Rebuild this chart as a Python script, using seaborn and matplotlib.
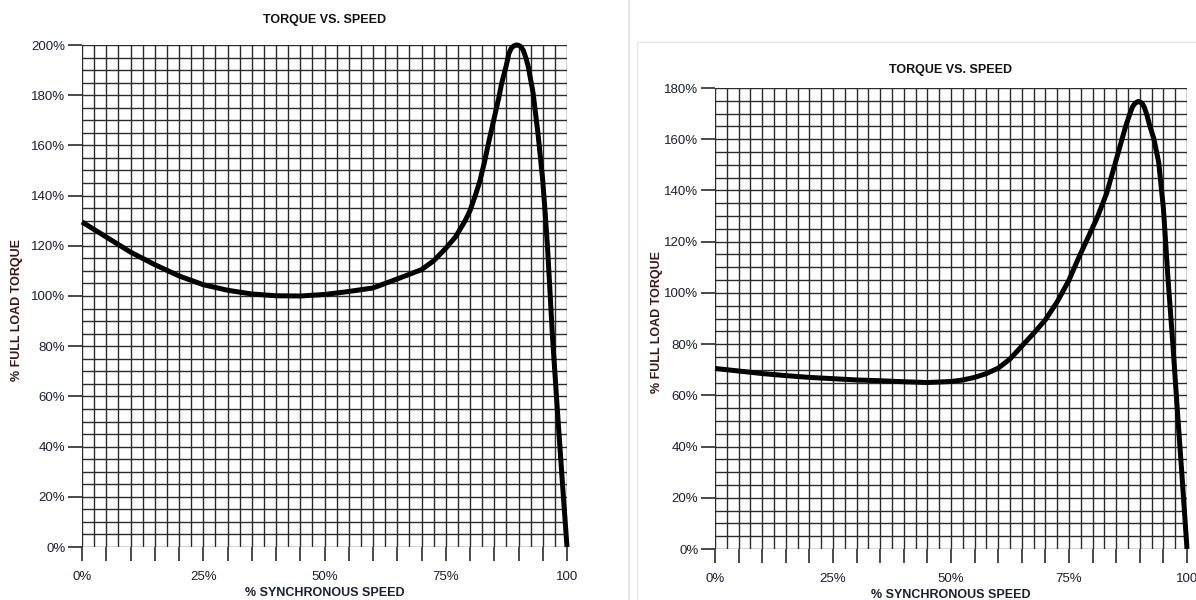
import matplotlib
matplotlib.use("Agg")
import matplotlib.pyplot as plt
import seaborn as sns
import numpy as np
import pandas as pd
from matplotlib.lines import Line2D
from matplotlib.patches import Rectangle

sns.set_style("white")
plt.rcParams['font.family'] = ['Liberation Sans', 'DejaVu Sans']

# ---- data ----
left_speed = [0, 5, 10, 15, 20, 25, 30, 35, 40, 45, 50, 55, 60, 65, 70, 72.5, 75, 77,
              79, 80, 81, 82, 83, 84, 85, 86, 86.5, 87.5, 88, 88.5, 89, 89.5, 90,
              90.5, 91, 91.5, 92, 93, 94, 95, 95.5, 96, 97, 98, 99, 100]
left_torque = [129.5, 123.5, 117.5, 112.5, 108, 104.5, 102.3, 100.8, 100.1, 100, 100.6,
               101.8, 103.2, 106.8, 110.5, 114, 119, 123.5, 130, 134, 139.5, 145.5,
               153.5, 162.5, 171, 179.5, 184.5, 192, 196.5, 198.7, 199.6, 200, 199.9,
               199.3, 197.8, 195, 191.5, 181, 165, 146, 133, 119, 84, 55, 27, 0]

right_speed = [0, 5, 10, 15, 20, 25, 30, 35, 40, 45, 50, 52.5, 55, 57.5, 60, 62.5, 65,
               67.5, 70, 72.5, 75, 77, 79, 81, 83, 85, 87, 88, 88.5, 89, 89.7, 90.5,
               91, 91.5, 92, 93, 94, 95, 96, 97, 98, 99, 100]
right_torque = [70.5, 69.5, 68.5, 67.7, 67, 66.5, 66, 65.7, 65.3, 65, 65.4, 66, 67,
                68.5, 70.6, 74.2, 79.2, 84.2, 89.5, 96.5, 105, 113.5, 121.5, 129.5,
                139, 152, 165, 170.5, 172.8, 174, 174.8, 174, 172.3, 169.5, 166, 160,
                151, 133, 105, 80, 53, 27, 0]

x_tick_labels = {0: "0%", 25: "25%", 50: "50%", 75: "75%", 100: "100"}
title_text = "TORQUE VS. SPEED"
xlabel_text = "% SYNCHRONOUS SPEED"
ylabel_text = "% FULL LOAD TORQUE"

W, H = 1196, 600
fig = plt.figure(figsize=(W / 100, H / 100), dpi=100)

# separator and panel frame
fig.add_artist(Line2D([629 / W, 629 / W], [0, 1], color="#e2e2e2", lw=1.2,
                      transform=fig.transFigure))
fig.add_artist(Rectangle((637 / W, -0.01), 0.5, (600 - 42) / H + 0.01,
                         fill=False, edgecolor="#e6e6e6", lw=1.0,
                         transform=fig.transFigure))

text_color = "#1c2030"
ylab_color = "#3a1818"


def panel(rect, xs, ys, ymax, title_pad, ylab_xy):
    ax = fig.add_axes(rect)
    df = pd.DataFrame({"speed": xs, "torque": ys})
    ax.set_xlim(0, 100)
    ax.set_ylim(0, ymax)
    # grid every 2.5% (x) and 5% (y)
    for gx in np.arange(0, 100.01, 2.5):
        ax.axvline(gx, color="#2b2b2b", lw=1.0, zorder=1)
    for gy in np.arange(0, ymax + 0.01, 5):
        ax.axhline(gy, color="#2b2b2b", lw=1.0, zorder=1)
    sns.lineplot(data=df, x="speed", y="torque", ax=ax, color="black",
                 lw=3.6, zorder=3, sort=False, estimator=None, clip_on=False,
                 solid_joinstyle="round", solid_capstyle="butt")
    for s in ax.spines.values():
        s.set_visible(False)
    xt = list(range(0, 101, 5))
    ax.set_xticks(xt)
    ax.set_xticklabels([x_tick_labels.get(v, "") for v in xt])
    yt = list(range(0, ymax + 1, 20))
    ax.set_yticks(yt)
    ax.set_yticklabels([f"{v}%" for v in yt])
    ax.tick_params(axis="both", direction="out", length=10, width=1.2,
                   color="#2b2b2b", labelsize=9.5, labelcolor=text_color)
    ax.tick_params(axis="x", pad=7, bottom=True)
    ax.tick_params(axis="y", pad=2, left=True)
    ax.set_xlabel(xlabel_text, fontsize=9, fontweight="bold",
                  color=text_color, labelpad=3)
    ax.set_ylabel(ylabel_text, fontsize=9, fontweight="bold",
                  color=ylab_color)
    ax.yaxis.set_label_coords(*ylab_xy)
    ax.set_title(title_text, fontsize=9, fontweight="bold", color="#111111",
                 pad=title_pad)
    return ax


ax1 = panel([82 / W, (600 - 547) / H, 485 / W, 502 / H],
            left_speed, left_torque, 200, 16, (-0.122, 0.472))
ax2 = panel([715 / W, (600 - 549) / H, 472 / W, 461 / H],
            right_speed, right_torque, 180, 11, (-0.110, 0.492))

fig.savefig("out.png", dpi=100, facecolor="white")
